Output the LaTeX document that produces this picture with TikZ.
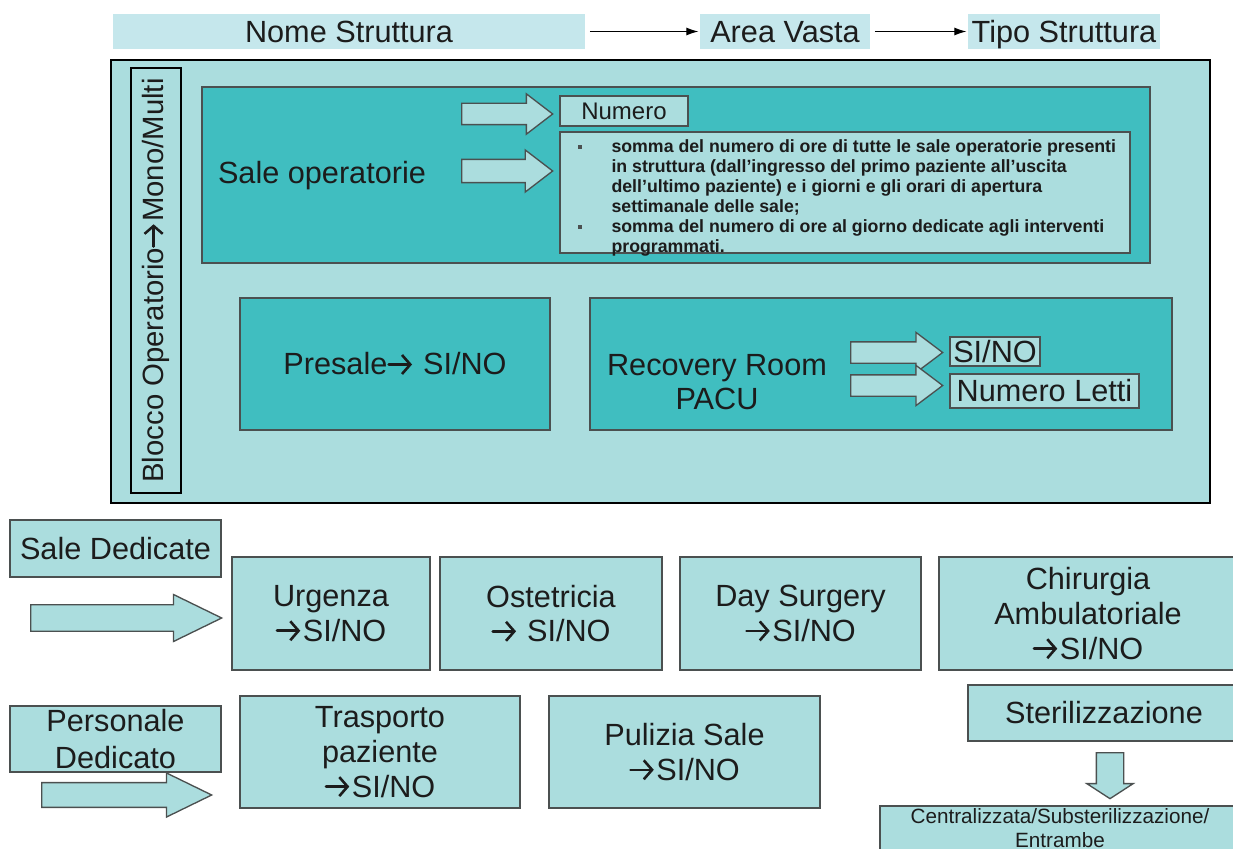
\documentclass[tikz,border=0pt]{standalone}
\usepackage{fontspec}
\setmainfont{Liberation Sans}
\usetikzlibrary{shapes.arrows,arrows.meta}

\definecolor{paleaqua}{RGB}{171,221,222}
\definecolor{seateal}{RGB}{64,190,192}
\definecolor{topaqua}{RGB}{197,231,236}
\definecolor{inkgrey}{RGB}{28,28,28}
\definecolor{edgegrey}{RGB}{75,80,80}

\newcommand\yesarrow{\tikz[baseline=-0.34em]\draw[line width=0.085em, line cap=round, -{Straight Barb[length=0.27em,width=0.62em]}] (0,0) -- (0.76em,0);\hspace{0.04em}}
\newcommand\notebullet{\makebox[25.5pt][l]{\color{edgegrey}\rule[3pt]{3pt}{3pt}}}

\tikzset{
  palebox/.style={draw=edgegrey, fill=paleaqua, line width=1.1pt, inner sep=2pt, align=center, text=inkgrey, font=\fontsize{23}{26}\selectfont},
  tealbox/.style={draw=edgegrey, fill=seateal, line width=1.1pt, inner sep=2pt, align=center, text=inkgrey, font=\fontsize{23}{26}\selectfont},
  topbox/.style={fill=topaqua, inner sep=0pt, text height=16.5pt, text depth=0pt, text=inkgrey, font=\fontsize{23}{26}\selectfont},
  plaintext/.style={inner sep=0pt, align=center, text=inkgrey, font=\fontsize{23}{26}\selectfont},
  fatarrow/.style={single arrow, draw=edgegrey, fill=paleaqua, line width=1pt, inner xsep=0pt, anchor=tail},
  thinarrow/.style={-{Latex[length=9pt,width=6pt]}, line width=0.8pt, shorten <=3.5pt, shorten >=1pt}
}

\begin{document}
\begin{tikzpicture}[x=0.75pt,y=0.75pt,yscale=-1,xscale=1]
\useasboundingbox (0,0) rectangle (1233,849);

% top row
\node[topbox, minimum width=354pt, minimum height=26.25pt] (nome) at (349,31.5) {Nome Struttura};
\node[topbox, minimum width=127.5pt, minimum height=26.25pt] (area) at (785,31.5) {Area Vasta};
\node[topbox, minimum width=144pt, minimum height=26.25pt] (tipo) at (1064,31.5) {Tipo Struttura};
\draw[thinarrow] (nome) -- (area);
\draw[thinarrow] (area) -- (tipo);

% blocco operatorio
\node[draw=black, fill=paleaqua, line width=1.5pt, minimum width=824.25pt, minimum height=332.25pt] (blocco) at (660.5,281.5) {};
\node[draw=black, line width=1pt, rotate=90, inner sep=0pt, minimum width=318.75pt, minimum height=37.5pt, text=inkgrey, font=\fontsize{22}{26}\selectfont] (mono) at (156,280.5) {Blocco Operatorio\yesarrow Mono/Multi};

% sale operatorie
\node[tealbox, minimum width=711pt, minimum height=132pt] (saleop) at (676,175) {};
\node[plaintext] (saleoplbl) at (322,176) {Sale operatorie};
\node[fatarrow, inner ysep=7.5pt, minimum height=68.25pt, minimum width=25.5pt, single arrow tip angle=75] (arrnum) at (461,114) {};
\node[fatarrow, inner ysep=8.2pt, minimum height=68.25pt, minimum width=27pt, single arrow tip angle=75] (arrnote) at (461,171) {};
\node[palebox, inner sep=1pt, minimum width=96pt, minimum height=22.5pt, font=\fontsize{18}{20}\selectfont] (numero) at (624,111) {Numero};
\node[palebox, minimum width=427.5pt, minimum height=90.75pt] (note) at (845,192.5) {};
\node[anchor=north west, inner sep=0pt, text=inkgrey, font=\bfseries\fontsize{13.3}{15}\selectfont] (notetxt) at ([xshift=13.5pt,yshift=5.25pt]note.north west)
  {\begin{tabular}{@{}l@{}l@{}}
   \notebullet & somma del numero di ore di tutte le sale operatorie presenti\\
   & in struttura (dall'ingresso del primo paziente all'uscita\\
   & dell'ultimo paziente) e i giorni e gli orari di apertura\\
   & settimanale delle sale;\\
   \notebullet & somma del numero di ore al giorno dedicate agli interventi\\
   & programmati.
   \end{tabular}};

% presale and recovery room
\node[tealbox, minimum width=232.5pt, minimum height=99pt] (presale) at (395,364) {Presale\yesarrow\ SI/NO};
\node[tealbox, minimum width=436.5pt, minimum height=99pt] (recov) at (881,364) {};
\node[plaintext, font=\fontsize{23}{25.5}\selectfont] (recovlbl) at (717,382) {Recovery Room\\PACU};
\node[fatarrow, inner ysep=7.5pt, minimum height=69pt, minimum width=26.25pt, single arrow tip angle=74] (arrsino) at (850,352.5) {};
\node[fatarrow, inner ysep=7.5pt, minimum height=69pt, minimum width=26.25pt, single arrow tip angle=74] (arrletti) at (850,385.5) {};
\node[palebox, inner sep=0.5pt, minimum width=67.5pt, minimum height=21.75pt] (sino) at (995,351.5) {SI/NO};
\node[palebox, inner sep=0.5pt, minimum width=141.75pt, minimum height=25.5pt] (letti) at (1044.5,391) {Numero Letti};

% sale dedicate
\node[palebox, minimum width=158.25pt, minimum height=42.75pt] (saleded) at (115.5,548.5) {Sale Dedicate};
\node[fatarrow, inner ysep=8.6pt, minimum height=143.25pt, minimum width=35.25pt, single arrow tip angle=52] (arrsale) at (30,618) {};
\node[palebox, minimum width=148.5pt, minimum height=84.75pt] (urg) at (331,613.5) {Urgenza\\\yesarrow SI/NO};
\node[palebox, minimum width=166.5pt, minimum height=84.75pt] (ost) at (551,613.5) {Ostetricia\\\yesarrow\ SI/NO};
\node[palebox, minimum width=180.75pt, minimum height=84.75pt] (day) at (800.5,613.5) {Day Surgery\\\yesarrow SI/NO};
\node[palebox, minimum width=223.5pt, minimum height=84.75pt] (chir) at (1088,613.5) {Chirurgia\\Ambulatoriale\\\yesarrow SI/NO};

% personale dedicato
\node[palebox, inner sep=0pt, minimum width=158.25pt, minimum height=49.5pt, font=\fontsize{23}{28}\selectfont] (persded) at (115.5,739) {Personale\\Dedicato};
\node[fatarrow, inner ysep=8.6pt, minimum height=127.5pt, minimum width=33pt, single arrow tip angle=52] (arrpers) at (41,795) {};
\node[palebox, minimum width=210pt, minimum height=84pt] (trasp) at (380,752) {Trasporto\\paziente\\\yesarrow SI/NO};
\node[palebox, minimum width=203.25pt, minimum height=84pt] (pulizia) at (684.5,752) {Pulizia Sale\\\yesarrow SI/NO};

% sterilizzazione
\node[palebox, minimum width=204pt, minimum height=42pt] (steril) at (1104,713) {Sterilizzazione};
\node[fatarrow, rotate=-90, inner ysep=9.75pt, minimum height=34.5pt, minimum width=30pt, single arrow tip angle=114] (arrsteril) at (1110,752) {};
\node[palebox, inner sep=0pt, minimum width=270pt, minimum height=33pt, font=\fontsize{15.5}{17.5}\selectfont] (central) at (1060,828) {Centralizzata/Substerilizzazione/\\Entrambe};

\end{tikzpicture}
\end{document}
